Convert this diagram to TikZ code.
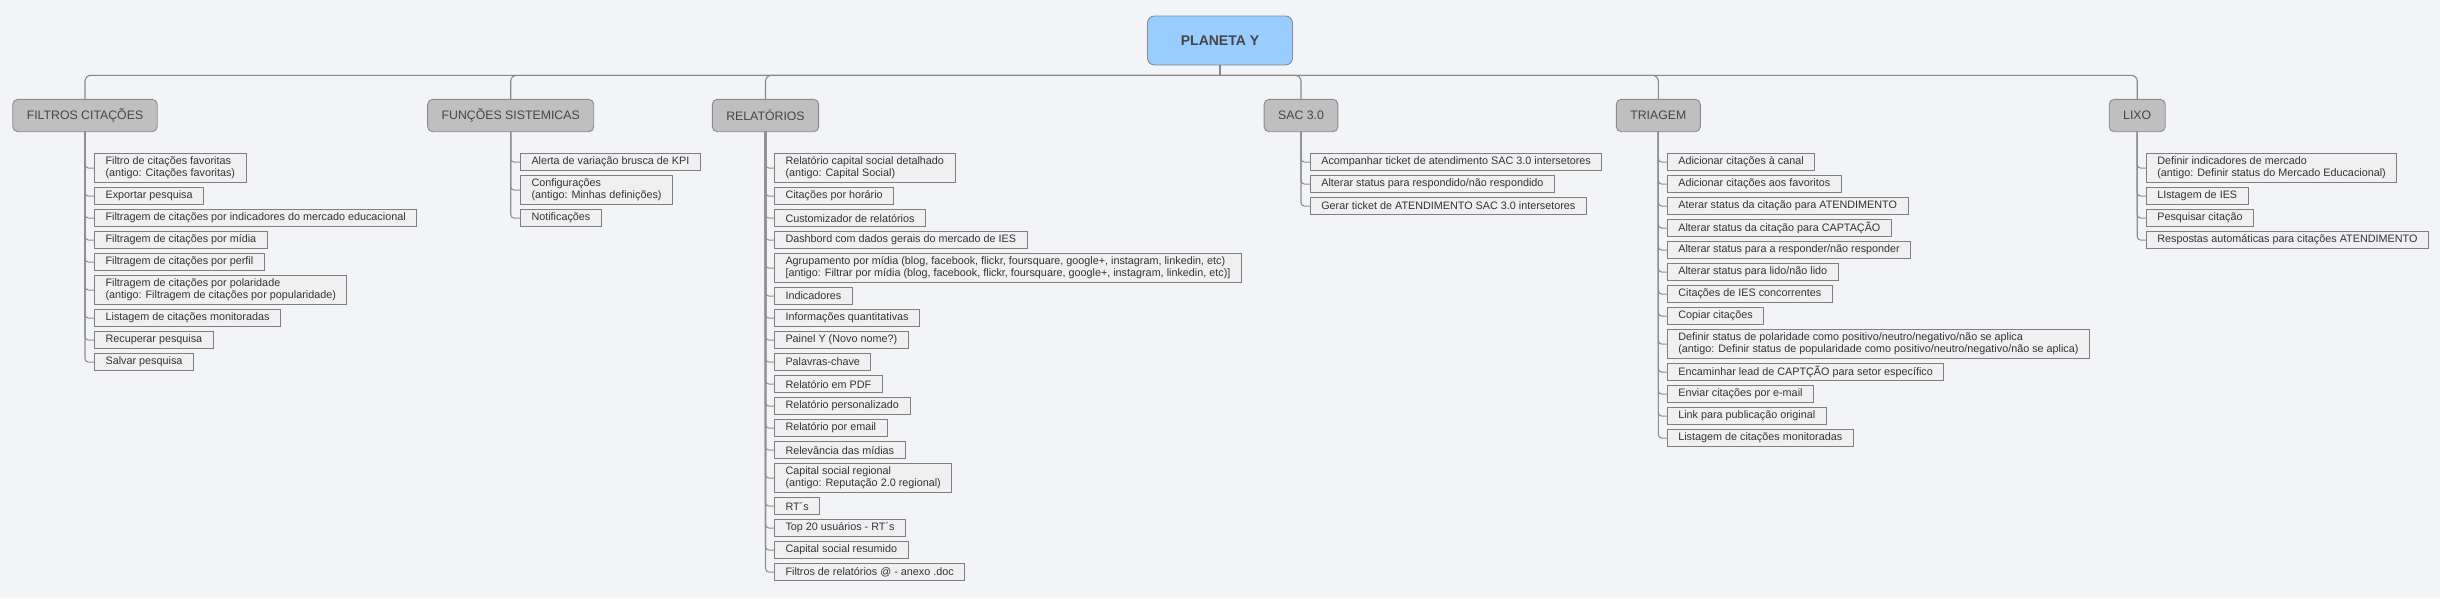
\documentclass[tikz,border=0pt]{standalone}
\usepackage{fontspec}
\setmainfont{Liberation Sans}
\definecolor{bg}{HTML}{F3F4F8}
\definecolor{leaffill}{HTML}{F0F0F0}
\definecolor{leafdraw}{HTML}{7F7F7F}
\definecolor{brfill}{HTML}{BFBFBF}
\definecolor{brdraw}{HTML}{8A8A8A}
\definecolor{rootfill}{HTML}{99CCFF}
\definecolor{rootdraw}{HTML}{7F8C99}
\definecolor{linec}{HTML}{878787}
\definecolor{trunkc}{HTML}{8F8F8F}
\definecolor{txt}{HTML}{333333}
\definecolor{brtxt}{HTML}{454545}
\tikzset{
 rootbox/.style={draw=rootdraw, fill=rootfill, rounded corners=7, minimum width=145, minimum height=49,
   inner sep=0, outer sep=0, font=\fontsize{14}{16}\selectfont\bfseries, text=brtxt, line width=0.9},
 branchbox/.style={draw=brdraw, fill=brfill, rounded corners=5, minimum height=32.4, inner xsep=14,
   inner ysep=0, outer sep=0, font=\fontsize{12.3}{14}\selectfont, text=brtxt, line width=0.9},
 leaf/.style={draw=leafdraw, fill=leaffill, anchor=north west, align=left, inner xsep=11, inner ysep=0,
   outer sep=0, minimum height=17.6, font=\fontsize{10.8}{12}\selectfont, text=txt, line width=0.9},
 leaftwo/.style={leaf, minimum height=29.6},
 busline/.style={draw=linec, line width=1.1, rounded corners=6},
 trunk/.style={draw=trunkc, line width=1.1, rounded corners=3.5},
}
\begin{document}
\begin{tikzpicture}[x=1pt,y=-1pt]
\fill[bg] (0,0) rectangle (2440,598);
\useasboundingbox (0,0) rectangle (2440,598);

% root and branches
\node[rootbox] (root) at (1220,40.5) {PLANETA Y};
\coordinate (bus) at (1220,75.3);
\node[branchbox] (fc) at (85,115.5) {FILTROS CITAÇÕES};
\node[branchbox] (fs) at (510.7,115.5) {FUNÇÕES SISTEMICAS};
\node[branchbox] (rel) at (765.5,115.5) {RELATÓRIOS};
\node[branchbox] (sac) at (1301,115.5) {SAC 3.0};
\node[branchbox] (tri) at (1658.3,115.5) {TRIAGEM};
\node[branchbox] (lixo) at (2137.2,115.5) {LIXO};

\draw[busline] (root.south) -- (bus);
\foreach \b in {fc,fs,rel,sac,tri,lixo}
  \draw[busline] (bus) -| (\b.north);

% FILTROS CITAÇÕES
\node[leaftwo] (fc1) at (94.6,153.3) {Filtro de citações favoritas\\(antigo: Citações favoritas)};
\node[leaf] (fc2) at ([yshift=-4.4pt]fc1.south west) {Exportar pesquisa};
\node[leaf] (fc3) at ([yshift=-4.4pt]fc2.south west) {Filtragem de citações por indicadores do mercado educacional};
\node[leaf] (fc4) at ([yshift=-4.4pt]fc3.south west) {Filtragem de citações por mídia};
\node[leaf] (fc5) at ([yshift=-4.4pt]fc4.south west) {Filtragem de citações por perfil};
\node[leaftwo] (fc6) at ([yshift=-4.4pt]fc5.south west) {Filtragem de citações por polaridade\\(antigo: Filtragem de citações por popularidade)};
\node[leaf] (fc7) at ([yshift=-4.4pt]fc6.south west) {Listagem de citações monitoradas};
\node[leaf] (fc8) at ([yshift=-4.4pt]fc7.south west) {Recuperar pesquisa};
\node[leaf] (fc9) at ([yshift=-4.4pt]fc8.south west) {Salvar pesquisa};
\foreach \i in {1,...,9} \draw[trunk] (fc.south) |- (fc\i.west);

% FUNÇÕES SISTEMICAS
\node[leaf] (fs1) at (520.5,153.3) {Alerta de variação brusca de KPI};
\node[leaftwo] (fs2) at ([yshift=-4.4pt]fs1.south west) {Configurações\\(antigo: Minhas definições)};
\node[leaf] (fs3) at ([yshift=-4.4pt]fs2.south west) {Notificações};
\foreach \i in {1,...,3} \draw[trunk] (fs.south) |- (fs\i.west);

% RELATÓRIOS
\node[leaftwo] (r1) at (774.5,153.3) {Relatório capital social detalhado\\(antigo: Capital Social)};
\node[leaf] (r2) at ([yshift=-4.4pt]r1.south west) {Citações por horário};
\node[leaf] (r3) at ([yshift=-4.4pt]r2.south west) {Customizador de relatórios};
\node[leaf] (r4) at ([yshift=-4.4pt]r3.south west) {Dashbord com dados gerais do mercado de IES};
\node[leaftwo] (r5) at ([yshift=-4.4pt]r4.south west) {Agrupamento por mídia (blog, facebook, flickr, foursquare, google+, instagram, linkedin, etc)\\{[}antigo: Filtrar por mídia (blog, facebook, flickr, foursquare, google+, instagram, linkedin, etc){]}};
\node[leaf] (r6) at ([yshift=-4.4pt]r5.south west) {Indicadores};
\node[leaf] (r7) at ([yshift=-4.4pt]r6.south west) {Informações quantitativas};
\node[leaf] (r8) at ([yshift=-4.4pt]r7.south west) {Painel Y (Novo nome?)};
\node[leaf] (r9) at ([yshift=-4.4pt]r8.south west) {Palavras-chave};
\node[leaf] (r10) at ([yshift=-4.4pt]r9.south west) {Relatório em PDF};
\node[leaf] (r11) at ([yshift=-4.4pt]r10.south west) {Relatório personalizado};
\node[leaf] (r12) at ([yshift=-4.4pt]r11.south west) {Relatório por email};
\node[leaf] (r13) at ([yshift=-4.4pt]r12.south west) {Relevância das mídias};
\node[leaftwo] (r14) at ([yshift=-4.4pt]r13.south west) {Capital social regional\\(antigo: Reputação 2.0 regional)};
\node[leaf] (r15) at ([yshift=-4.4pt]r14.south west) {RT´s};
\node[leaf] (r16) at ([yshift=-4.4pt]r15.south west) {Top 20 usuários - RT´s};
\node[leaf] (r17) at ([yshift=-4.4pt]r16.south west) {Capital social resumido};
\node[leaf] (r18) at ([yshift=-4.4pt]r17.south west) {Filtros de relatórios @ - anexo .doc};
\foreach \i in {1,...,18} \draw[trunk] (rel.south) |- (r\i.west);

% SAC 3.0
\node[leaf] (s1) at (1310.3,153.3) {Acompanhar ticket de atendimento SAC 3.0 intersetores};
\node[leaf] (s2) at ([yshift=-4.4pt]s1.south west) {Alterar status para respondido/não respondido};
\node[leaf] (s3) at ([yshift=-4.4pt]s2.south west) {Gerar ticket de ATENDIMENTO SAC 3.0 intersetores};
\foreach \i in {1,...,3} \draw[trunk] (sac.south) |- (s\i.west);

% TRIAGEM
\node[leaf] (t1) at (1667.3,153.3) {Adicionar citações à canal};
\node[leaf] (t2) at ([yshift=-4.4pt]t1.south west) {Adicionar citações aos favoritos};
\node[leaf] (t3) at ([yshift=-4.4pt]t2.south west) {Aterar status da citação para ATENDIMENTO};
\node[leaf] (t4) at ([yshift=-4.4pt]t3.south west) {Alterar status da citação para CAPTAÇÃO};
\node[leaf] (t5) at ([yshift=-4.4pt]t4.south west) {Alterar status para a responder/não responder};
\node[leaf] (t6) at ([yshift=-4.4pt]t5.south west) {Alterar status para lido/não lido};
\node[leaf] (t7) at ([yshift=-4.4pt]t6.south west) {Citações de IES concorrentes};
\node[leaf] (t8) at ([yshift=-4.4pt]t7.south west) {Copiar citações};
\node[leaftwo] (t9) at ([yshift=-4.4pt]t8.south west) {Definir status de polaridade como positivo/neutro/negativo/não se aplica\\(antigo: Definir status de popularidade como positivo/neutro/negativo/não se aplica)};
\node[leaf] (t10) at ([yshift=-4.4pt]t9.south west) {Encaminhar lead de CAPTÇÃO para setor específico};
\node[leaf] (t11) at ([yshift=-4.4pt]t10.south west) {Enviar citações por e-mail};
\node[leaf] (t12) at ([yshift=-4.4pt]t11.south west) {Link para publicação original};
\node[leaf] (t13) at ([yshift=-4.4pt]t12.south west) {Listagem de citações monitoradas};
\foreach \i in {1,...,13} \draw[trunk] (tri.south) |- (t\i.west);

% LIXO
\node[leaftwo] (l1) at (2146.3,153.3) {Definir indicadores de mercado\\(antigo: Definir status do Mercado Educacional)};
\node[leaf] (l2) at ([yshift=-4.4pt]l1.south west) {LIstagem de IES};
\node[leaf] (l3) at ([yshift=-4.4pt]l2.south west) {Pesquisar citação};
\node[leaf] (l4) at ([yshift=-4.4pt]l3.south west) {Respostas automáticas para citações ATENDIMENTO};
\foreach \i in {1,...,4} \draw[trunk] (lixo.south) |- (l\i.west);
\end{tikzpicture}
\end{document}
